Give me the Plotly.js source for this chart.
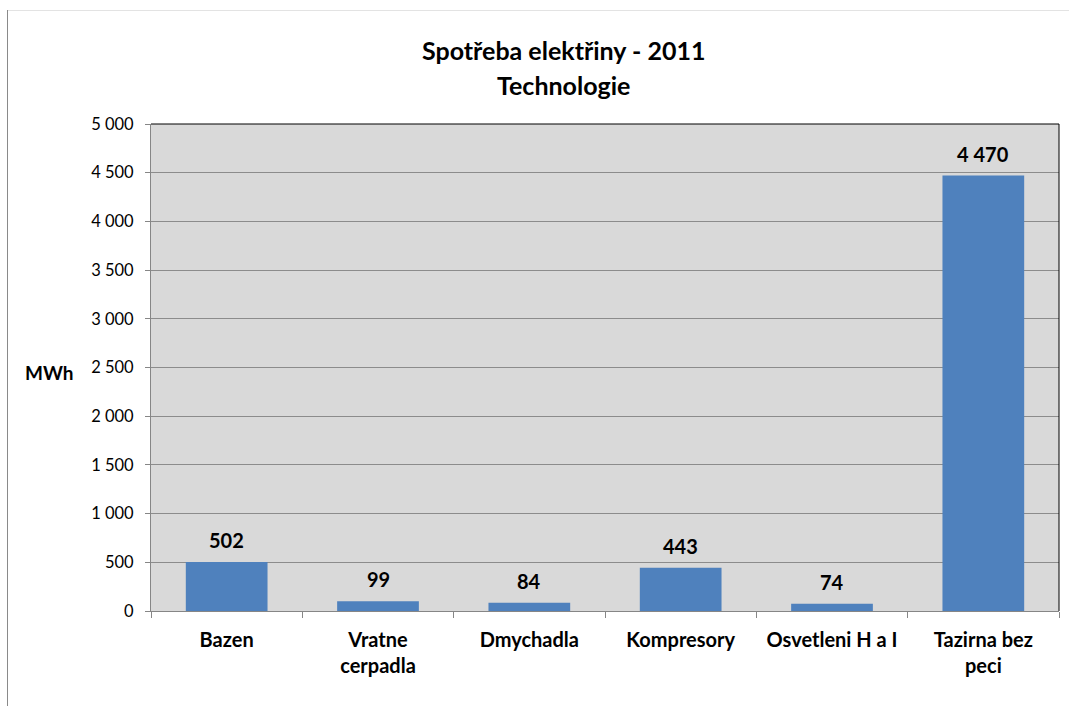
<!DOCTYPE html>
<html>
<head>
<meta charset="utf-8">
<script src="https://cdn.plot.ly/plotly-3.0.1.min.js"></script>
<style>
  html, body { margin: 0; padding: 0; background: #ffffff; }
  #chart { width: 1069px; height: 706px; }
</style>
</head>
<body>
<div id="chart"></div>
<script>
// Electricity consumption by technology, 2011 (MWh)
const categories = ["Bazen", "Vratne<br>cerpadla", "Dmychadla", "Kompresory", "Osvetleni H a I", "Tazirna bez<br>peci"];
const consumption = [502, 99, 84, 443, 74, 4470];
const yTickValues = [0, 500, 1000, 1500, 2000, 2500, 3000, 3500, 4000, 4500, 5000];
const yTickLabels = ["0", "500", "1 000", "1 500", "2 000", "2 500", "3 000", "3 500", "4 000", "4 500", "5 000"];

const W = 1069, H = 706;
const M = { l: 151, r: 10, t: 124, b: 95 };
const plotW = W - M.l - M.r, plotH = H - M.t - M.b;
const px = x => (x - M.l) / plotW;     // page pixel -> paper x
const py = y => (H - M.b - y) / plotH; // page pixel -> paper y

const fontFam = "Lato, 'Open Sans', sans-serif";

// thousands separated by a space, as in the axis labels
const fmt = v => String(v).replace(/\B(?=(\d{3})+(?!\d))/g, " ");

const valueLabels = categories.map((c, i) => ({
  x: c, y: consumption[i], xref: "x", yref: "y",
  text: fmt(consumption[i]), showarrow: false,
  yanchor: "bottom", yshift: 8,
  font: { family: fontFam, size: 20, color: "#000000", weight: "bold" }
}));

const data = [{
  type: "bar",
  x: categories,
  y: consumption,
  marker: { color: "#4f81bd" },
  hoverinfo: "x+y"
}];

const layout = {
  width: W, height: H,
  margin: M,
  paper_bgcolor: "#ffffff",
  plot_bgcolor: "#d9d9d9",
  showlegend: false,
  bargap: 0.46,
  font: { family: fontFam, color: "#000000" },
  xaxis: {
    type: "category",
    tickson: "boundaries",
    ticks: "outside", ticklen: 6, tickcolor: "#868686", tickwidth: 1,
    showline: true, linecolor: "#868686", linewidth: 1,
    showgrid: false,
    tickfont: { family: fontFam, size: 20, color: "#000000", weight: "bold" },
    ticklabelstandoff: 11,
    fixedrange: true
  },
  yaxis: {
    range: [0, 5000],
    tickvals: yTickValues, ticktext: yTickLabels,
    ticks: "outside", ticklen: 5, tickcolor: "#868686", tickwidth: 1,
    showline: true, linecolor: "#868686", linewidth: 1,
    showgrid: true, gridcolor: "#8c8c8c", gridwidth: 1,
    zeroline: false,
    tickfont: { family: fontFam, size: 16.5, color: "#000000" },
    ticklabelstandoff: 8,
    fixedrange: true
  },
  annotations: [
    { text: "Spotřeba elektřiny - 2011", xref: "paper", yref: "paper",
      x: px(563), y: py(50), showarrow: false, xanchor: "center", yanchor: "middle",
      font: { family: fontFam, size: 25, weight: "bold", color: "#000000" } },
    { text: "Technologie", xref: "paper", yref: "paper",
      x: px(563), y: py(85), showarrow: false, xanchor: "center", yanchor: "middle",
      font: { family: fontFam, size: 25, weight: "bold", color: "#000000" } },
    { text: "MWh", xref: "paper", yref: "paper",
      x: px(49), y: py(372), showarrow: false, xanchor: "center", yanchor: "middle",
      font: { family: fontFam, size: 19, weight: "bold", color: "#000000" } }
  ].concat(valueLabels),
  shapes: [
    // plot frame: top and right edges
    { type: "line", xref: "paper", yref: "paper", x0: 0, x1: 1, y0: 1, y1: 1,
      line: { color: "#000000", width: 1 } },
    { type: "line", xref: "paper", yref: "paper", x0: 1, x1: 1, y0: 0, y1: 1,
      line: { color: "#000000", width: 1 } },
    // chart outer frame
    { type: "line", xref: "paper", yref: "paper", x0: px(8), x1: px(1069), y0: py(10.5), y1: py(10.5),
      line: { color: "#e3e3e3", width: 1 } },
    { type: "line", xref: "paper", yref: "paper", x0: px(7.5), x1: px(7.5), y0: py(10), y1: py(706),
      line: { color: "#8a8a8a", width: 1 } }
  ]
};

Plotly.newPlot("chart", data, layout, { displayModeBar: false, staticPlot: true });
</script>
</body>
</html>
